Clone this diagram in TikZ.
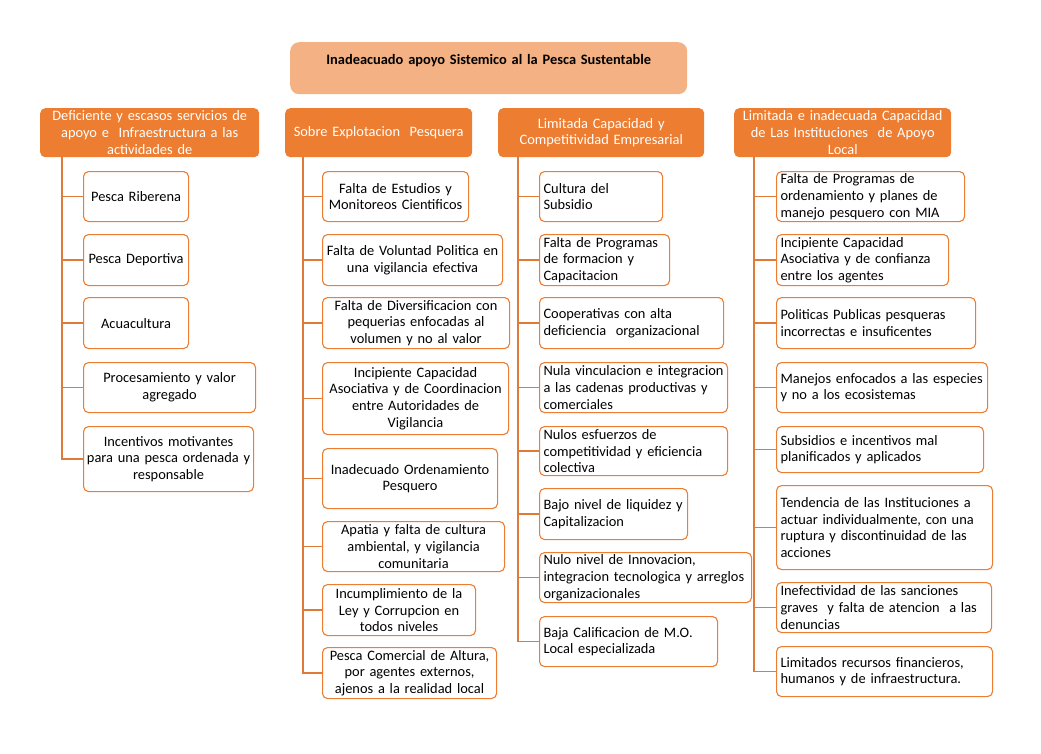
\documentclass[tikz,border=0pt]{standalone}
\usepackage{fontspec}
\setmainfont{Carlito}
\definecolor{hdr}{HTML}{ED7D31}
\definecolor{ttl}{HTML}{F4B183}
\definecolor{lnk}{HTML}{E07A38}
\tikzset{
  base/.style={anchor=north west, inner xsep=4pt, inner ysep=0pt,
    font=\fontsize{14.4}{16.7}\selectfont},
  leafc/.style={base, draw=hdr, line width=1.1pt, rounded corners=5pt,
    fill=white, align=center},
  leafl/.style={base, draw=hdr, line width=1.1pt, rounded corners=5pt,
    fill=white, align=left},
  header/.style={base, fill=hdr, rounded corners=5pt, text=white, align=center},
  titlebox/.style={base, fill=ttl, rounded corners=9pt, align=center,
    font=\fontsize{14.4}{16.7}\selectfont\bfseries},
  conn/.style={draw=lnk, line width=1.3pt},
}
% #1 style, #2 name, #3 x, #4 y, #5 text width, #6 height, #7 text
\newcommand{\leaf}[7]{\node[#1, text width=#5pt, minimum height=#6pt] (#2) at (#3,#4) {#7};}
\begin{document}
\begin{tikzpicture}[x=1pt,y=-1pt]
\useasboundingbox (0,0) rectangle (1041,753);

% title
\node[titlebox, text width=389pt, minimum height=52pt] (top) at (290,42)
  {Inadeacuado apoyo Sistemico al la Pesca Sustentable\\ \mbox{}};

% column headers
\leaf{header}{h1}{40}{108}{211}{49}{Deficiente y escasos servicios de\\ apoyo e\ \ Infraestructura a las\\ actividades de}
\leaf{header}{h2}{285}{108}{179}{49}{Sobre Explotacion\ \ Pesquera}
\leaf{header}{h3}{498}{108}{198}{49}{Limitada Capacidad y\\ Competitividad Empresarial}
\leaf{header}{h4}{734}{108}{209}{49}{Limitada e inadecuada Capacidad\\ de Las Instituciones\ \ de Apoyo\\ Local}

% column 1
\leaf{leafc}{c11}{83}{171}{97}{50}{Pesca Riberena}
\leaf{leafc}{c12}{83}{234}{97}{51}{Pesca Deportiva}
\leaf{leafc}{c13}{83}{297}{97}{51}{Acuacultura}
\leaf{leafc}{c14}{83}{362}{164}{50}{Procesamiento y valor\\ agregado}
\leaf{leafc,inner xsep=1pt}{c15}{83}{426}{168}{65}{Incentivos motivantes\\ para una pesca ordenada y\\ responsable}

% column 2
\leaf{leafc}{c21}{322}{171}{138}{50}{Falta de Estudios y\\ Monitoreos Cientificos}
\leaf{leafc}{c22}{322}{234}{172}{51}{Falta de Voluntad Politica en\\ una vigilancia efectiva}
\leaf{leafc}{c23}{322}{297}{179}{51}{Falta de Diversificacion con\\ pequerias enfocadas al\\ volumen y no al valor}
\leaf{leafc}{c24}{322}{362}{178}{72}{Incipiente Capacidad\\ Asociativa y de Coordinacion\\ entre Autoridades de\\ Vigilancia}
\leaf{leafc}{c25}{322}{448}{167}{60}{Inadecuado Ordenamiento\\ Pesquero}
\leaf{leafc}{c26}{322}{521}{174}{50}{Apatia y falta de cultura\\ ambiental, y vigilancia\\ comunitaria}
\leaf{leafc}{c27}{322}{584}{145}{51}{Incumplimiento de la\\ Ley y Corrupcion en\\ todos niveles}
\leaf{leafc}{c28}{322}{647}{166}{51}{Pesca Comercial de Altura,\\ por agentes externos,\\ ajenos a la realidad local}

% column 3
\leaf{leafl}{c31}{539}{171}{115}{50}{Cultura del\\ Subsidio}
\leaf{leafl}{c32}{539}{234}{122}{51}{Falta de Programas\\ de formacion y\\ Capacitacion}
\leaf{leafl}{c33}{539}{297}{176}{51}{Cooperativas con alta\\ deficiencia\ \ organizacional}
\leaf{leafl}{c34}{539}{362}{180}{50}{Nula vinculacion\ e integracion\\ a las cadenas productivas y\\ comerciales}
\leaf{leafl}{c35}{539}{426}{180}{49}{Nulos esfuerzos de\\ competitividad y eficiencia\\ colectiva}
\leaf{leafl}{c36}{539}{488}{140}{51}{Bajo nivel de liquidez y\\ Capitalizacion}
\leaf{leafl}{c37}{539}{552}{204}{50}{Nulo nivel de Innovacion,\\ integracion tecnologica y arreglos\\ organizacionales}
\leaf{leafl}{c38}{539}{616}{170}{50}{Baja Calificacion de M.O.\\ Local especializada}

% column 4
\leaf{leafl}{c41}{776}{171}{180}{50}{Falta de Programas de\\ ordenamiento y planes de\\ manejo pesquero con MIA}
\leaf{leafl}{c42}{776}{234}{164}{51}{Incipiente Capacidad\\ Asociativa y de confianza\\ entre los agentes}
\leaf{leafl}{c43}{776}{297}{191}{51}{Politicas Publicas pesqueras\\ incorrectas e insuficentes}
\leaf{leafl}{c44}{776}{362}{203}{50}{Manejos enfocados a las especies\\ y no a los ecosistemas}
\leaf{leafl}{c45}{776}{426}{199}{46}{Subsidios e incentivos mal\\ planificados y aplicados}
\leaf{leafl}{c46}{776}{485}{208}{84}{Tendencia de las Instituciones a\\ actuar individualmente, con una\\ ruptura y discontinuidad de las\\ acciones}
\leaf{leafl}{c47}{776}{582}{207}{50}{Inefectividad de las sanciones\\ graves\ \ y falta de atencion\ \ a las\\ denuncias}
\leaf{leafl}{c48}{776}{646}{208}{50}{Limitados recursos financieros,\\ humanos y de infraestructura.}

% connectors: trunk down from each header, branch to every box
\foreach \k in {1,...,5} \draw[conn] ([xshift=22pt]h1.south west) |- (c1\k.west);
\foreach \k in {1,...,8} \draw[conn] ([xshift=18pt]h2.south west) |- (c2\k.west);
\foreach \k in {1,...,8} \draw[conn] ([xshift=20pt]h3.south west) |- (c3\k.west);
\foreach \k in {1,...,8} \draw[conn] ([xshift=20pt]h4.south west) |- (c4\k.west);
\end{tikzpicture}
\end{document}
